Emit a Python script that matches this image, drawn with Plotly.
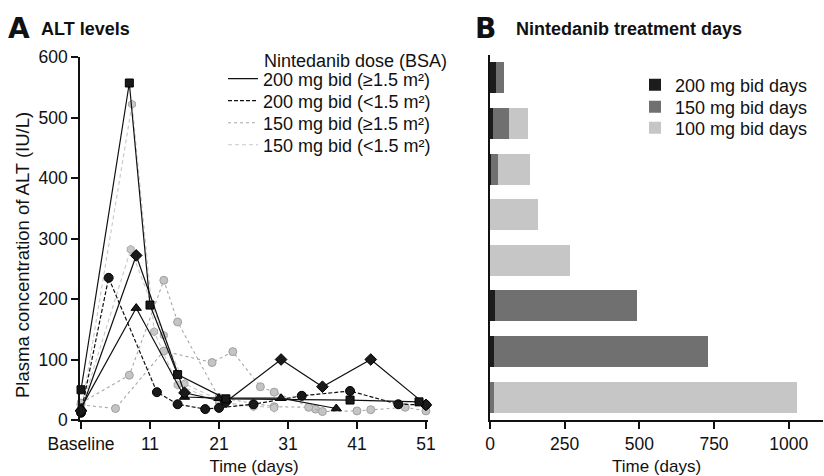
import plotly.graph_objects as go

# ---------------- Panel A data (ALT, IU/L) ----------------
tick_days = [1, 11, 21, 31, 41, 51]
tick_text = ["Baseline", "11", "21", "31", "41", "51"]

# 200 mg bid (>=1.5 m2) - solid black
days_square = [1, 8, 11, 15, 22, 40, 50]
alt_square = [50, 557, 190, 75, 35, 33, 30]
days_diamond = [1, 9, 16, 22, 30, 36, 43, 51]
alt_diamond = [15, 272, 45, 30, 100, 55, 100, 25]
days_triangle = [1, 9, 16, 21, 30, 38]
alt_triangle = [20, 185, 38, 36, 36, 19]

# 200 mg bid (<1.5 m2) - dashed black
days_circle = [1, 5, 12, 15, 19, 21, 26, 33, 40, 47, 51]
alt_circle = [12, 235, 46, 26, 18, 20, 26, 40, 48, 26, 25]

# 150 mg bid (>=1.5 m2) - dotted grey
days_grey1 = [1, 8, 13, 15, 21, 29, 34, 36, 41, 43, 48, 51]
alt_grey1 = [28, 74, 231, 162, 37, 22, 21, 14, 15, 17, 21, 15]
days_grey2 = [1, 6, 13, 20, 23, 27, 29, 35]
alt_grey2 = [25, 19, 114, 95, 113, 55, 46, 18]

# 150 mg bid (<1.5 m2) - dashed light grey
days_grey3 = [1, 8.4, 11.6, 15, 21, 26]
alt_grey3 = [12, 522, 146, 58, 30, 22]
days_grey4 = [1, 8.2, 13, 16, 22, 29]
alt_grey4 = [18, 282, 140, 60, 28, 20]

legend_title_a = "Nintedanib dose (BSA)"
legend_labels = [
    "200 mg bid (\u22651.5 m\u00b2)",
    "200 mg bid (<1.5 m\u00b2)",
    "150 mg bid (\u22651.5 m\u00b2)",
    "150 mg bid (<1.5 m\u00b2)",
]

# ---------------- Panel B data (treatment days) ----------------
patients = ["P1", "P2", "P3", "P4", "P5", "P6", "P7", "P8"]
days_200 = [20, 11, 3, 0, 0, 17, 14, 0]
days_150 = [28, 52, 24, 0, 0, 474, 717, 14]
days_100 = [0, 63, 107, 160, 268, 0, 0, 1013]
bar_labels = ["200 mg bid days", "150 mg bid days", "100 mg bid days"]

FONT = "Liberation Sans, Arial, Helvetica, sans-serif"
W, H = 824, 476

BLACK_SOLID = dict(color="#111111", width=1.2)
BLACK_DASH = dict(color="#111111", width=1.2, dash="4px,2px")
GREY_DOT = dict(color="#a8a8a8", width=1.1, dash="dot")
GREY_DASH = dict(color="#c8c8c8", width=1.1, dash="4px,3px")

fig = go.Figure()

def add_series(x, y, line, symbol, size, fill, outline):
    fig.add_trace(go.Scatter(
        x=x, y=y, mode="lines+markers", line=line,
        marker=dict(symbol=symbol, size=size, color=fill,
                    line=dict(color=outline, width=1)),
        cliponaxis=False, showlegend=False, hoverinfo="x+y",
        xaxis="x", yaxis="y"))

add_series(days_grey2, alt_grey2, GREY_DOT, "circle", 8, "#c4c4c4", "#a0a0a0")
add_series(days_grey1, alt_grey1, GREY_DOT, "circle", 8, "#c4c4c4", "#a0a0a0")
add_series(days_grey4, alt_grey4, GREY_DASH, "hexagon", 8, "#c8c8c8", "#a8a8a8")
add_series(days_grey3, alt_grey3, GREY_DASH, "hexagon", 8, "#c8c8c8", "#a8a8a8")
add_series(days_circle, alt_circle, BLACK_DASH, "circle", 9, "#1a1a1a", "#000000")
add_series(days_triangle, alt_triangle, BLACK_SOLID, "triangle-up", 9, "#1a1a1a", "#000000")
add_series(days_diamond, alt_diamond, BLACK_SOLID, "diamond", 9, "#1a1a1a", "#000000")
add_series(days_square, alt_square, BLACK_SOLID, "square", 8, "#1a1a1a", "#000000")

# one legend per entry so the rows sit exactly where the reference has them
legend_cfg = {}
a_rows = [79, 101, 123, 145]
for i, (lab, ln) in enumerate(zip(legend_labels, [BLACK_SOLID, BLACK_DASH, GREY_DOT, GREY_DASH])):
    key = "legend" if i == 0 else f"legend{i + 1}"
    fig.add_trace(go.Scatter(x=[None], y=[None], mode="lines", line=ln, name=lab,
                             legend=key, xaxis="x", yaxis="y"))
    legend_cfg[key] = dict(x=223 / W, y=1 - a_rows[i] / H, xanchor="left", yanchor="middle",
                           bgcolor="rgba(0,0,0,0)",
                           font=dict(family=FONT, size=18, color="#111111"), itemwidth=30)

# ---------------- Panel B bars ----------------
b_rows = [85, 107, 128]
for j, (vals, lab, col) in enumerate(zip([days_200, days_150, days_100], bar_labels,
                                         ["#1c1c1c", "#707070", "#c6c6c6"])):
    key = f"legend{5 + j}"
    fig.add_trace(go.Bar(
        y=patients, x=vals, orientation="h", name=lab,
        marker=dict(color=col, line=dict(width=0)),
        legend=key, xaxis="x2", yaxis="y2"))
    legend_cfg[key] = dict(x=635 / W, y=1 - b_rows[j] / H, xanchor="left", yanchor="middle",
                           bgcolor="rgba(0,0,0,0)",
                           font=dict(family=FONT, size=18, color="#111111"), itemwidth=30)

axis_common = dict(
    showline=True, linecolor="#111111", linewidth=1.5,
    ticks="outside", ticklen=7, tickwidth=1.5, tickcolor="#111111",
    showgrid=False, zeroline=False, automargin=False,
    tickfont=dict(family=FONT, size=17.5, color="#111111"),
)

fig.update_layout(
    width=W, height=H,
    margin=dict(l=0, r=0, t=0, b=0, autoexpand=False),
    paper_bgcolor="white", plot_bgcolor="white",
    font=dict(family=FONT, size=17, color="#111111"),
    barmode="stack", bargap=0.32,
    xaxis=dict(
        domain=[80 / W, 428 / W], range=[0.85, 51.3],
        tickvals=tick_days, ticktext=tick_text,
        title=dict(text="Time (days)", font=dict(size=17), standoff=9),
        anchor="y", **axis_common),
    yaxis=dict(
        domain=[1 - 420 / H, 1 - 57 / H], range=[0, 600],
        tickvals=[0, 100, 200, 300, 400, 500, 600],
        anchor="x", **axis_common),
    xaxis2=dict(
        domain=[490 / W, 823 / W], range=[0, 1115],
        tickvals=[0, 250, 500, 750, 1000],
        title=dict(text="Time (days)", font=dict(size=17), standoff=9),
        anchor="y2", **axis_common),
    yaxis2=dict(
        domain=[1 - 420 / H, 1 - 55 / H], type="category",
        categoryorder="array", categoryarray=patients, autorange="reversed",
        showline=True, linecolor="#111111", linewidth=1.5, automargin=False,
        showticklabels=False, ticks="", showgrid=False, zeroline=False,
        anchor="x2"),
    showlegend=True,
    **legend_cfg,
)

annots = [
    dict(text="<b>A</b>", x=6 / W, y=1 - 28 / H, size=28, family="DejaVu Sans, Liberation Sans", angle=0, xa="left"),
    dict(text="<b>ALT levels</b>", x=39 / W, y=1 - 29 / H, size=18, family=FONT, angle=0, xa="left"),
    dict(text="<b>B</b>", x=473 / W, y=1 - 28 / H, size=28, family="DejaVu Sans, Liberation Sans", angle=0, xa="left"),
    dict(text="<b>Nintedanib treatment days</b>", x=514 / W, y=1 - 29 / H, size=18, family=FONT, angle=0, xa="left"),
    dict(text=legend_title_a, x=262 / W, y=1 - 61 / H, size=18, family=FONT, angle=0, xa="left"),
    dict(text="Plasma concentration of ALT (IU/L)", x=22 / W, y=1 - 255 / H, size=18.5,
         family=FONT, angle=-90, xa="center"),
]
for a in annots:
    fig.add_annotation(xref="paper", yref="paper", xanchor=a["xa"], yanchor="middle",
                       showarrow=False, x=a["x"], y=a["y"], text=a["text"], textangle=a["angle"],
                       font=dict(family=a["family"], color="#111111", size=a["size"]))

fig.write_html("out.html", config={"displayModeBar": False},
               post_script="document.body.style.margin='0';")
